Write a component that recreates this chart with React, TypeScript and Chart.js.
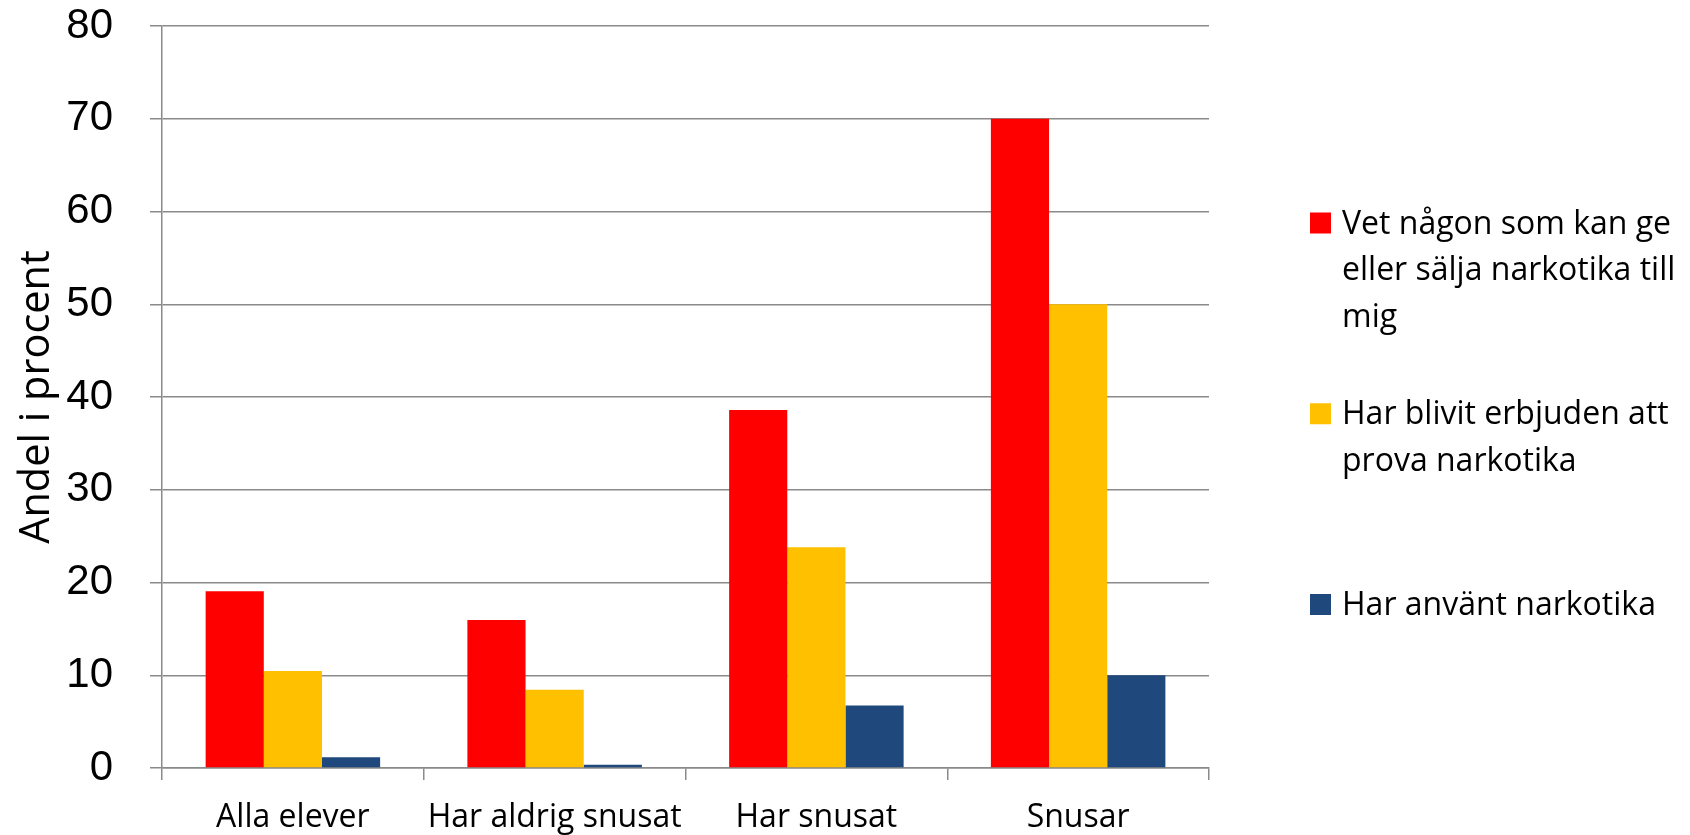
import React, { useEffect, useRef } from "react";
import { Chart, registerables } from "chart.js";

Chart.register(...registerables);

const categories = ["Alla elever", "Har aldrig snusat", "Har snusat", "Snusar"];
const seriesNames = [
  "Vet någon som kan ge eller sälja narkotika till mig",
  "Har blivit erbjuden att prova narkotika",
  "Har använt narkotika",
];
const knowsSomeone = [19.05, 15.95, 38.6, 70.0];
const beenOffered = [10.45, 8.45, 23.8, 50.0];
const hasUsed = [1.15, 0.35, 6.75, 10.0];
const colors = ["#FF0000", "#FFC000", "#1F497D"];
const yTicks = [0, 10, 20, 30, 40, 50, 60, 70, 80];
const yTitle = "Andel i procent";

const LEGEND_FONT = 32;
const LEGEND_X = 1310;
const LEGEND_TEXT_X = 1342;
const LEGEND_MAX_W = 360;
const LEGEND_MID0 = 280;
const LEGEND_SLOT = 167.5;
const LEGEND_LINE_H = 46.5;
const LEGEND_BOX = 21;

function wrapText(ctx: CanvasRenderingContext2D, text: string, maxW: number): string[] {
  const words = text.split(" ");
  const lines: string[] = [];
  let cur = "";
  for (const w of words) {
    const test = cur ? cur + " " + w : w;
    if (ctx.measureText(test).width > maxW && cur) {
      lines.push(cur);
      cur = w;
    } else {
      cur = test;
    }
  }
  if (cur) lines.push(cur);
  return lines;
}

const sideLegend = {
  id: "sideLegend",
  afterDraw(chart: any) {
    const ctx: CanvasRenderingContext2D = chart.ctx;
    ctx.save();
    ctx.font = `${LEGEND_FONT}px "Open Sans"`;
    ctx.textBaseline = "alphabetic";
    ctx.textAlign = "left";
    chart.data.datasets.forEach((ds: any, i: number) => {
      const lines = wrapText(ctx, ds.label, LEGEND_MAX_W);
      const mid = LEGEND_MID0 + i * LEGEND_SLOT;
      const first = mid - ((lines.length - 1) / 2) * LEGEND_LINE_H;
      ctx.fillStyle = ds.backgroundColor;
      ctx.fillRect(LEGEND_X, first - LEGEND_BOX, LEGEND_BOX, LEGEND_BOX);
      ctx.fillStyle = "#000000";
      lines.forEach((l, j) => ctx.fillText(l, LEGEND_TEXT_X, first + j * LEGEND_LINE_H));
    });
    ctx.restore();
  },
};

export default function App() {
  const ref = useRef<HTMLCanvasElement | null>(null);

  useEffect(() => {
    document.body.style.margin = "0";
    const canvas = ref.current;
    if (!canvas) return;
    const values = [knowsSomeone, beenOffered, hasUsed];
    const chart = new Chart(canvas, {
      type: "bar",
      data: {
        labels: categories,
        datasets: seriesNames.map((name, i) => ({
          label: name,
          data: values[i],
          backgroundColor: colors[i],
          borderWidth: 0,
          categoryPercentage: 2 / 3,
          barPercentage: 1,
        })),
      },
      options: {
        responsive: false,
        animation: false,
        devicePixelRatio: 1,
        layout: { padding: { left: 0, right: 481, top: 26, bottom: 0 } },
        plugins: {
          legend: { display: false },
          tooltip: { enabled: false },
        },
        scales: {
          x: {
            offset: true,
            grid: {
              offset: true,
              drawOnChartArea: false,
              drawTicks: true,
              tickLength: 12,
              color: "#8a8a8a",
              lineWidth: 1.5,
            },
            border: { display: true, color: "#8a8a8a", width: 1.5 },
            ticks: {
              color: "#000000",
              font: { family: '"Open Sans"', size: 32 },
              padding: 19,
              maxRotation: 0,
              autoSkip: false,
            },
            afterFit(s: any) {
              s.height = 67;
              s.paddingLeft = 0;
              s.paddingRight = 0;
            },
          },
          y: {
            min: 0,
            max: 80,
            afterBuildTicks(s: any) {
              s.ticks = yTicks.map((v) => ({ value: v }));
            },
            grid: {
              color: "#8a8a8a",
              lineWidth: 1.5,
              drawTicks: true,
              tickLength: 12,
            },
            border: { display: true, color: "#8a8a8a", width: 1.5 },
            ticks: {
              color: "#000000",
              font: { family: '"Liberation Sans"', size: 42 },
              padding: 37,
            },
            title: {
              display: true,
              text: yTitle,
              color: "#000000",
              font: { family: '"Open Sans"', size: 41.5, lineHeight: 1.2 },
              padding: { top: 12, bottom: 0 },
            },
            afterFit(s: any) {
              s.width = 162;
              s.paddingTop = 0;
              s.paddingBottom = 0;
            },
          },
        },
      },
      plugins: [sideLegend],
    });
    return () => chart.destroy();
  }, []);

  return (
    <div style={{ width: 1690, height: 835, background: "#ffffff" }}>
      <canvas ref={ref} width={1690} height={835} style={{ display: "block" }} />
    </div>
  );
}
